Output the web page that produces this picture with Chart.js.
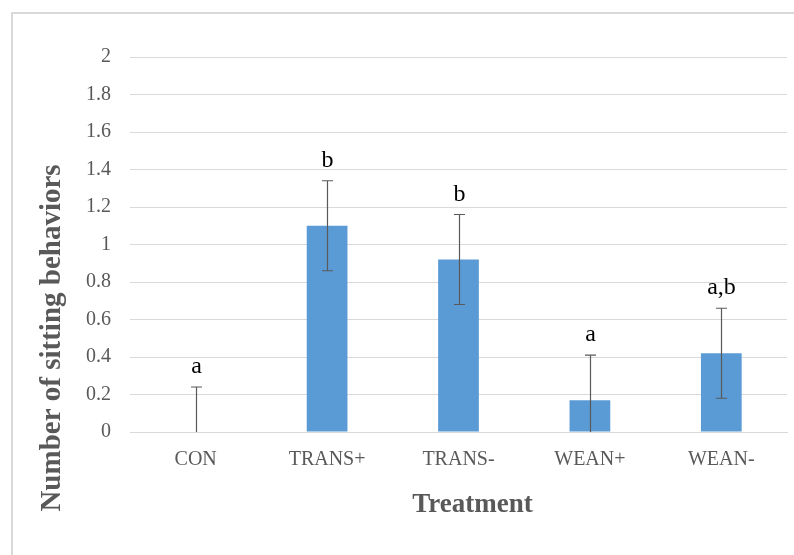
<!DOCTYPE html>
<html>
<head>
<meta charset="utf-8">
<script src="https://cdn.jsdelivr.net/npm/chart.js@4/dist/chart.umd.min.js"></script>
<style>
  html, body { margin: 0; padding: 0; background: #ffffff; }
  #wrap { width: 794px; height: 555px; position: relative; }
</style>
</head>
<body>
<div id="wrap"><canvas id="c" width="794" height="555"></canvas></div>
<script>
// Treatment groups and mean sitting behaviours with their error margins
const categories = ['CON', 'TRANS+', 'TRANS-', 'WEAN+', 'WEAN-'];
const means = [0, 1.10, 0.92, 0.17, 0.42];
const errors = [0.24, 0.24, 0.24, 0.24, 0.24];
const letters = ['a', 'b', 'b', 'a', 'a,b'];
const yTicks = [0, 0.2, 0.4, 0.6, 0.8, 1, 1.2, 1.4, 1.6, 1.8, 2];

const SERIF = '"Liberation Serif", "Times New Roman", serif';
const TEXT_GREY = '#595959';

// Outer frame of the chart object
const framePlugin = {
  id: 'frame',
  beforeDraw(chart) {
    const ctx = chart.ctx;
    ctx.save();
    ctx.fillStyle = '#ffffff';
    ctx.fillRect(0, 0, chart.width, chart.height);
    ctx.strokeStyle = '#d9d9d9';
    ctx.lineWidth = 2;
    ctx.strokeRect(12, 13, chart.width + 20, chart.height + 20);
    ctx.restore();
  }
};

// Error bars with caps, plus significance letters above them
const errorBarPlugin = {
  id: 'errorBars',
  afterDatasetsDraw(chart) {
    const ctx = chart.ctx;
    const x = chart.scales.x;
    const y = chart.scales.y;
    ctx.save();
    ctx.strokeStyle = '#595959';
    ctx.lineWidth = 1.2;
    means.forEach((m, i) => {
      const cx = Math.round(x.getPixelForValue(i)) + 0.5;
      const top = y.getPixelForValue(m + errors[i]);
      const bot = y.getPixelForValue(Math.max(0, m - errors[i]));
      ctx.beginPath();
      ctx.moveTo(cx, top);
      ctx.lineTo(cx, bot);
      ctx.moveTo(cx - 5.5, top);
      ctx.lineTo(cx + 5.5, top);
      if (m - errors[i] > 0) {
        ctx.moveTo(cx - 5.5, bot);
        ctx.lineTo(cx + 5.5, bot);
      }
      ctx.stroke();

      ctx.fillStyle = '#000000';
      ctx.font = '24px ' + SERIF;
      ctx.textAlign = 'center';
      ctx.textBaseline = 'alphabetic';
      ctx.fillText(letters[i], cx, top - 14);
    });
    ctx.restore();
  }
};

// Axis titles
const axisTitlePlugin = {
  id: 'axisTitles',
  afterDraw(chart) {
    const ctx = chart.ctx;
    const a = chart.chartArea;
    ctx.save();
    ctx.fillStyle = TEXT_GREY;
    ctx.textAlign = 'center';
    ctx.textBaseline = 'middle';
    ctx.font = 'bold 27px ' + SERIF;
    ctx.fillText('Treatment', (a.left + a.right) / 2 + 14, a.bottom + 73);
    ctx.translate(a.left - 77, a.bottom - 94);
    ctx.rotate(-Math.PI / 2);
    ctx.font = 'bold 29px ' + SERIF;
    ctx.fillText('Number of sitting behaviors', 0, 0);
    ctx.restore();
  }
};

new Chart(document.getElementById('c'), {
  type: 'bar',
  data: {
    labels: categories,
    datasets: [{
      data: means,
      backgroundColor: '#5b9bd5',
      borderWidth: 0,
      categoryPercentage: 1,
      barPercentage: 0.31
    }]
  },
  options: {
    responsive: false,
    animation: false,
    devicePixelRatio: 1,
    layout: { padding: { left: 0, top: 57, right: 7, bottom: 0 } },
    plugins: {
      legend: { display: false },
      tooltip: { enabled: false }
    },
    scales: {
      x: {
        grid: { display: false, drawTicks: false },
        border: { display: true, color: '#d9d9d9', width: 1 },
        ticks: {
          color: TEXT_GREY,
          font: { family: SERIF, size: 20 },
          padding: 16,
          maxRotation: 0
        },
        afterFit(scale) { scale.height = 123; }
      },
      y: {
        min: 0,
        max: 2,
        afterBuildTicks(scale) {
          scale.ticks = yTicks.map(v => ({ value: v }));
        },
        grid: { color: '#d9d9d9', lineWidth: 1, drawTicks: false },
        border: { display: false },
        ticks: {
          color: TEXT_GREY,
          font: { family: SERIF, size: 20 },
          padding: 19,
          callback: v => String(v)
        },
        afterFit(scale) { scale.width = 130; }
      }
    }
  },
  plugins: [framePlugin, errorBarPlugin, axisTitlePlugin]
});
</script>
</body>
</html>
